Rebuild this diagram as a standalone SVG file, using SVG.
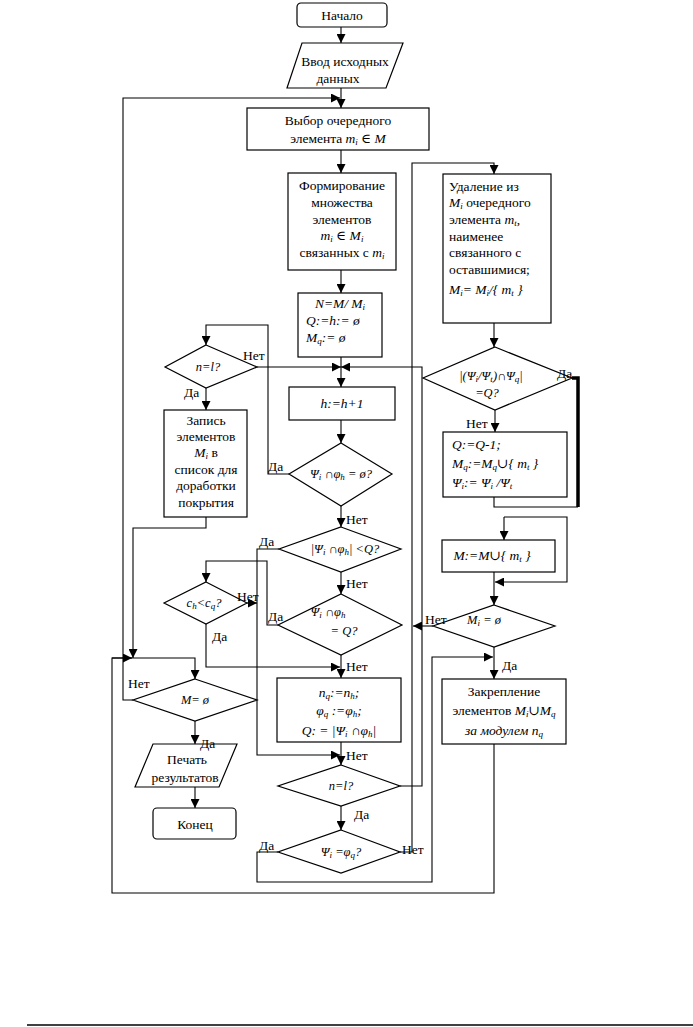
<svg xmlns="http://www.w3.org/2000/svg" width="693" height="1027" viewBox="0 0 693 1027">
<defs>
<marker id="a" viewBox="0 0 10 10" refX="10" refY="5" markerWidth="9" markerHeight="9" orient="auto" markerUnits="userSpaceOnUse"><path d="M0,0 L10,5 L0,10 z" fill="#000"/></marker>
</defs>
<style>
.b{fill:#fff;stroke:#000;stroke-width:1.2}
.l{fill:none;stroke:#000;stroke-width:1.1}
.k{fill:none;stroke:#000;stroke-width:3.5}
.t text{font-family:'Liberation Serif','DejaVu Serif','Times New Roman',serif;font-size:13.5px;fill:#000}
.c{text-anchor:middle}
.t .d{font-size:12.5px}
.i{font-style:italic}
.t .s{font-size:9px;baseline-shift:-2px}
</style>
<rect width="693" height="1027" fill="#fff"/>
<g id="connectors">
<path class="l" d="M341,27 V43" marker-end="url(#a)"/>
<path class="l" d="M341,88 V108" marker-end="url(#a)"/>
<path class="l" d="M133,700 H123 V98 H340" marker-end="url(#a)"/>
<path class="l" d="M341,150 V173" marker-end="url(#a)"/>
<path class="l" d="M341,270 V293" marker-end="url(#a)"/>
<path class="l" d="M341,357 V387" marker-end="url(#a)"/>
<path class="l" d="M257,367 H341" marker-end="url(#a)"/>
<path class="l" d="M400,786 H422 V367 H341" marker-end="url(#a)"/>
<path class="l" d="M341,420 V443" marker-end="url(#a)"/>
<path class="l" d="M289,474 H268 V325 H206 V345" marker-end="url(#a)"/>
<path class="l" d="M206,388 V410" marker-end="url(#a)"/>
<path class="l" d="M341,506 V527" marker-end="url(#a)"/>
<path class="l" d="M279,549 H257 V755 H340" marker-end="url(#a)"/>
<path class="l" d="M341,572 V594" marker-end="url(#a)"/>
<path class="l" d="M278,625 H267 V561 H206 V582" marker-end="url(#a)"/>
<path class="l" d="M247,603 H257" marker-end="url(#a)"/>
<path class="l" d="M206,624 V667 H340" marker-end="url(#a)"/>
<path class="l" d="M341,655 V678" marker-end="url(#a)"/>
<path class="l" d="M341,742 V765" marker-end="url(#a)"/>
<path class="l" d="M341,806 V830" marker-end="url(#a)"/>
<path class="l" d="M278,852 H257 V882 H432 V657 H493" marker-end="url(#a)"/>
<path class="l" d="M400,852 H412 V163 H494 V174" marker-end="url(#a)"/>
<path class="l" d="M433,626 H413" marker-end="url(#a)"/>
<path class="l" d="M494,323 V347" marker-end="url(#a)"/>
<path class="k" d="M572,378 H578 V507"/>
<path class="l" d="M494,497 V507 H578"/>
<path class="l" d="M495,410 V432" marker-end="url(#a)"/>
<path class="l" d="M504,517 V540" marker-end="url(#a)"/>
<path class="l" d="M504,517 H567 V582 H495" marker-end="url(#a)"/>
<path class="l" d="M494,572 V605" marker-end="url(#a)"/>
<path class="l" d="M494,647 V679" marker-end="url(#a)"/>
<path class="l" d="M494,744 V893 H112 V658 H195 V679" marker-end="url(#a)"/>
<path class="l" d="M112,658 H132" marker-end="url(#a)"/>
<path class="l" d="M206,517 V528 H133 V658" marker-end="url(#a)"/>
<path class="l" d="M195,721 V744" marker-end="url(#a)"/>
<path class="l" d="M195,787 V808" marker-end="url(#a)"/>
</g>
<g class="t" font-family="'Liberation Serif','DejaVu Serif',serif">
<g id="start"><rect class="b" x="297" y="3" width="90" height="24" rx="4"/><text class="c" x="342" y="20">Начало</text></g>
<g id="input"><polygon class="b" points="302,43 403,43 386,88 287,88"/><text class="c" x="345" y="66">Ввод исходных</text><text class="c" x="338" y="83">данных</text></g>
<g id="select"><rect class="b" x="247" y="108" width="182" height="42"/><text class="c" x="338" y="125">Выбор очередного</text><text class="c" x="338" y="143">элемента <tspan class="i">m<tspan class="s">i</tspan> ∈ M</tspan></text></g>
<g id="form"><rect class="b" x="288" y="173" width="108" height="97"/><text class="c" x="342" y="190">Формирование</text><text class="c" x="342" y="207">множества</text><text class="c" x="342" y="224">элементов</text><text class="c i" x="342" y="240">m<tspan class="s">i</tspan> ∈ M<tspan class="s">i</tspan></text><text class="c" x="342" y="257">связанных с <tspan class="i">m<tspan class="s">i</tspan></tspan></text></g>
<g id="init"><rect class="b" x="298" y="293" width="84" height="64"/><text class="c i" x="340" y="308">N=M/ M<tspan class="s">i</tspan></text><text class="i" x="306" y="325">Q:=h:= ø</text><text class="i" x="306" y="342">M<tspan class="s">q</tspan>:= ø</text></g>
<g id="inc"><rect class="b" x="289" y="387" width="106" height="33"/><text class="c i" x="342" y="408">h:=h+1</text></g>
<g id="d1"><polygon class="b" points="341,443 392,474 341,506 289,474"/><text class="c d i" x="341" y="478">Ψ<tspan class="s">i</tspan> ∩φ<tspan class="s">h</tspan> = ø?</text><text x="268" y="471">Да</text><text x="346" y="524">Нет</text></g>
<g id="d2"><polygon class="b" points="341,527 401,549 341,572 279,549"/><text class="c d i" x="345" y="553">|Ψ<tspan class="s">i</tspan> ∩φ<tspan class="s">h</tspan>| &lt;Q?</text><text x="259" y="546">Да</text><text x="346" y="588">Нет</text></g>
<g id="d3"><polygon class="b" points="341,594 402,625 341,655 278,625"/><text class="c d i" x="328" y="616">Ψ<tspan class="s">i</tspan> ∩φ<tspan class="s">h</tspan></text><text class="c d i" x="344" y="635">= Q?</text><text x="268" y="621">Да</text><text x="346" y="671">Нет</text></g>
<g id="dc"><polygon class="b" points="206,582 247,603 206,624 164,603"/><text class="c d i" x="204" y="607">c<tspan class="s">h</tspan>&lt;c<tspan class="s">q</tspan>?</text><text x="237" y="601">Нет</text><text x="212" y="641">Да</text></g>
<g id="save"><rect class="b" x="277" y="678" width="124" height="64"/><text class="c i" x="339" y="697">n<tspan class="s">q</tspan>:=n<tspan class="s">h</tspan>;</text><text class="c i" x="339" y="715">φ<tspan class="s">q</tspan> :=φ<tspan class="s">h</tspan>;</text><text class="c i" x="339" y="735">Q: = |Ψ<tspan class="s">i</tspan> ∩φ<tspan class="s">h</tspan>|</text></g>
<g id="d4"><polygon class="b" points="341,765 400,786 341,806 278,786"/><text class="c d i" x="341" y="790">n=l?</text><text x="346" y="760">Нет</text><text x="354" y="819">Да</text></g>
<g id="d5"><polygon class="b" points="341,830 400,852 341,873 278,852"/><text class="c d i" x="341" y="856">Ψ<tspan class="s">i</tspan> =φ<tspan class="s">q</tspan>?</text><text x="259" y="850">Да</text><text x="402" y="854">Нет</text></g>
<g id="dn"><polygon class="b" points="206,345 257,367 206,388 165,367"/><text class="c d i" x="208" y="371">n=l?</text><text x="243" y="360">Нет</text><text x="184" y="397">Да</text></g>
<g id="record"><rect class="b" x="164" y="410" width="83" height="107"/><text class="c" x="206" y="425">Запись</text><text class="c" x="206" y="441">элементов</text><text class="c" x="206" y="457"><tspan class="i">M<tspan class="s">i</tspan></tspan> в</text><text class="c" x="206" y="474">список для</text><text class="c" x="206" y="490">доработки</text><text class="c" x="206" y="507">покрытия</text></g>
<g id="dm"><polygon class="b" points="195,679 257,700 195,721 133,700"/><text class="c d i" x="195" y="704">M= ø</text><text x="128" y="688">Нет</text></g>
<g id="print"><polygon class="b" points="153,744 237,744 219,787 135,787"/><text class="c" x="187" y="764">Печать</text><text class="c" x="185" y="782">результатов</text><text x="200" y="748">Да</text></g>
<g id="end"><rect class="b" x="153" y="808" width="83" height="31" rx="4"/><text class="c" x="195" y="829">Конец</text></g>
<g id="remove"><rect class="b" x="443" y="174" width="108" height="149"/><text x="449" y="191">Удаление из</text><text x="449" y="207"><tspan class="i">M<tspan class="s">i</tspan></tspan> очередного</text><text x="449" y="224">элемента <tspan class="i">m<tspan class="s">t</tspan></tspan>,</text><text x="449" y="241">наименее</text><text x="449" y="257">связанного с</text><text x="449" y="274">оставшимися;</text><text class="i" x="449" y="294">M<tspan class="s">i</tspan>= M<tspan class="s">i</tspan>/{ m<tspan class="s">t</tspan> }</text></g>
<g id="d6"><polygon class="b" points="495,347 572,378 495,410 423,378"/><text class="c d i" x="491" y="380">|(Ψ<tspan class="s">i</tspan>/Ψ<tspan class="s">t</tspan>)∩Ψ<tspan class="s">q</tspan>|</text><text class="c d i" x="487" y="397">=Q?</text><text x="557" y="378">Да</text><text x="466" y="428">Нет</text></g>
<g id="update"><rect class="b" x="443" y="432" width="124" height="65"/><text class="i" x="452" y="449">Q:=Q-1;</text><text class="i" x="452" y="468">M<tspan class="s">q</tspan>:=M<tspan class="s">q</tspan>∪{ m<tspan class="s">t</tspan> }</text><text class="i" x="452" y="487">Ψ<tspan class="s">i</tspan>:= Ψ<tspan class="s">i</tspan> /Ψ<tspan class="s">t</tspan></text></g>
<g id="addm"><rect class="b" x="442" y="540" width="113" height="32"/><text class="c i" x="492" y="560">M:=M∪{ m<tspan class="s">t</tspan> }</text></g>
<g id="dmi"><polygon class="b" points="494,605 555,626 494,647 433,626"/><text class="c d i" x="484" y="624">M<tspan class="s">i</tspan> = ø</text><text x="425" y="624">Нет</text><text x="502" y="670">Да</text></g>
<g id="fix"><rect class="b" x="442" y="679" width="124" height="65"/><text class="c" x="504" y="696">Закрепление</text><text class="c" x="504" y="715">элементов <tspan class="i">M<tspan class="s">i</tspan>∪M<tspan class="s">q</tspan></tspan></text><text class="c i" x="504" y="735">за модулем n<tspan class="s">q</tspan></text></g>
</g>
<line x1="27" y1="1025" x2="693" y2="1025" stroke="#000" stroke-width="1.5"/>
</svg>
